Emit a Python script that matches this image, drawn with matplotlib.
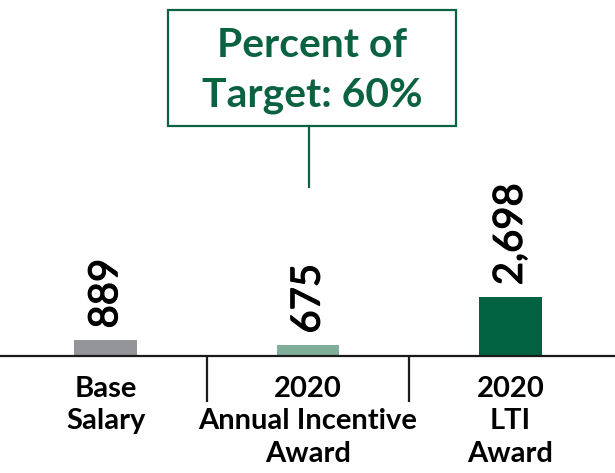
import matplotlib.pyplot as plt
import matplotlib.patheffects as pe
from matplotlib.patches import Rectangle

plt.rcParams['font.family'] = ['Lato', 'DejaVu Sans']

categories = ["Base\nSalary", "2020\nAnnual Incentive\nAward", "2020\nLTI\nAward"]
values = [889, 675, 2698]
value_labels = ["889", "675", "2,698"]
bar_colors = ["#939598", "#80AE98", "#006241"]
title_lines = ["Percent of", "Target: 60%"]
green = "#0B6241"

W, H = 615, 473
fig = plt.figure(figsize=(W / 100, H / 100), dpi=100)

base_px = 355.5  # baseline from top
ax = fig.add_axes([0, (H - base_px) / H, 1, base_px / H])
px_per_unit = 0.0239
y0 = 250
ax.set_ylim(y0, y0 + base_px / px_per_unit)
ax.set_xlim(-0.5225, 2.5176)

x = list(range(len(values)))
ax.bar(x, values, width=0.31, color=bar_colors)

for xi, v, lab in zip(x, values, value_labels):
    ax.annotate(lab, (xi, v), xytext=(0, 8.5), textcoords="offset points",
                rotation=90, ha="center", va="bottom", fontsize=28.8,
                color="black",
                path_effects=[pe.withStroke(linewidth=0.9, foreground="black")])

for s in ["top", "left", "right"]:
    ax.spines[s].set_visible(False)
ax.spines["bottom"].set_linewidth(1.6)
ax.spines["bottom"].set_color("#1a1a1a")
ax.set_xticks([])
ax.set_yticks([])

# separators between categories
ax.vlines([0.5, 1.5], -46.5 / base_px, 0, transform=ax.get_xaxis_transform(),
          color="#1a1a1a", lw=1.6, clip_on=False)

for xi, cat in zip(x, categories):
    ax.text(xi, -20 / base_px, cat, transform=ax.get_xaxis_transform(),
            ha="center", va="top", fontsize=21, fontweight="bold",
            linespacing=1.33, color="black")

# title box
fig.patches.append(Rectangle((168 / W, 1 - 126 / H), 288 / W, 116 / H,
                             transform=fig.transFigure, fill=False,
                             edgecolor=green, lw=1.6))
fig.add_artist(plt.Line2D([309 / W, 309 / W], [1 - 126 / H, 1 - 187 / H],
                          transform=fig.transFigure, color=green, lw=1.6))
fig.text(312 / W, 1 - 56.7 / H, title_lines[0], ha="center", va="baseline",
         fontsize=29.4, fontweight="bold", color=green)
fig.text(312 / W, 1 - 106.7 / H, title_lines[1], ha="center", va="baseline",
         fontsize=29.4, fontweight="bold", color=green)

fig.savefig("out.png", dpi=100)
